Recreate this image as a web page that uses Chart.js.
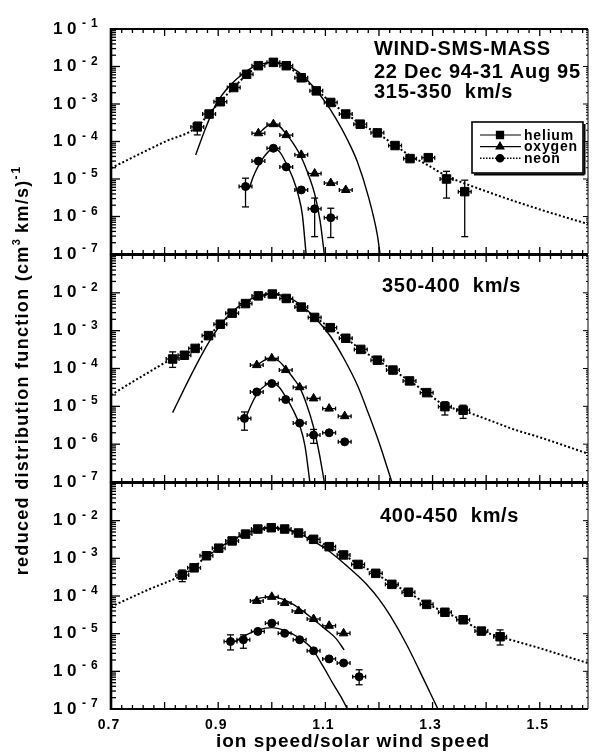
<!DOCTYPE html>
<html>
<head>
<meta charset="utf-8">
<title>WIND-SMS-MASS reduced distribution functions</title>
<script src="https://cdn.jsdelivr.net/npm/chart.js@4.4.1/dist/chart.umd.min.js"></script>
<style>
  body { margin: 0; background: #fff; }
  #page { position: relative; width: 595px; height: 753px; }
  #page canvas { position: absolute; left: 0; top: 0; }
</style>
</head>
<body>
<div id="page">
  <canvas id="panel1" width="595" height="753"></canvas>
  <canvas id="panel2" width="595" height="753"></canvas>
  <canvas id="panel3" width="595" height="753"></canvas>
</div>
<script>
// axis ranges and tick labels
const SPEED_MIN = 0.7;
const SPEED_MAX = 1.59;
const SPEED_ERR = 0.012; // half width of the speed bins (horizontal error bars)
const speedTickValues = [0.7, 0.9, 1.1, 1.3, 1.5];
const speedTickLabels = ['0.7', '0.9', '1.1', '1.3', '1.5'];
const decadeExponents = [-1, -2, -3, -4, -5, -6, -7];
const legendLabels = ['helium', 'oxygen', 'neon'];
const panel1Titles = ['WIND-SMS-MASS', '22 Dec 94-31 Aug 95', '315-350  km/s'];
const panel2Titles = ['350-400  km/s'];
const panel3Titles = ['400-450  km/s'];

// ---- panel 1 : 315-350 km/s ----
const p1HeSpeed = [0.861, 0.883, 0.904, 0.929, 0.953, 0.975, 1.003, 1.027, 1.055, 1.083, 1.110, 1.138, 1.165, 1.197, 1.230, 1.258, 1.292, 1.326, 1.360];
const p1HeValue = [2.45e-4, 5.4e-4, 1.15e-3, 2.75e-3, 6.2e-3, 1.05e-2, 1.29e-2, 1.05e-2, 5.0e-3, 2.24e-3, 1.1e-3, 5.4e-4, 2.9e-4, 1.7e-4, 7.8e-5, 3.5e-5, 3.7e-5, 1.0e-5, 4.6e-6];
const p1HeErrAt = [0, 17, 18];
const p1HeErrLo = [1.5e-4, 3.1e-6, 2.9e-7];
const p1HeErrHi = [3.3e-4, 1.6e-5, 9.3e-6];
const p1OxSpeed = [0.975, 1.003, 1.027, 1.055, 1.080, 1.110, 1.138];
const p1OxValue = [1.66e-4, 2.9e-4, 1.48e-4, 4.4e-5, 1.4e-5, 7.8e-6, 5.1e-6];
const p1NeSpeed = [0.951, 0.975, 1.003, 1.027, 1.055, 1.080, 1.110];
const p1NeValue = [6.3e-6, 3.0e-5, 6.6e-5, 2.1e-5, 5.1e-6, 1.6e-6, 9.3e-7];
const p1NeErrAt = [0, 5, 6];
const p1NeErrLo = [1.8e-6, 2.9e-7, 2.75e-7];
const p1NeErrHi = [1.05e-5, 3.1e-6, 1.66e-6];
const p1KappaSpeed = [0.70, 0.75, 0.80, 0.86, 0.883, 0.904, 0.929, 0.953, 0.975, 1.0, 1.027, 1.055, 1.083, 1.11, 1.138, 1.165, 1.197, 1.23, 1.258, 1.292, 1.326, 1.36, 1.40, 1.455, 1.52, 1.59];
const p1KappaValue = [1.95e-5, 4.4e-5, 9.8e-5, 2.4e-4, 5.6e-4, 1.17e-3, 2.75e-3, 6.0e-3, 1.0e-2, 1.26e-2, 1.05e-2, 5.2e-3, 2.4e-3, 1.12e-3, 5.6e-4, 3.0e-4, 1.66e-4, 7.9e-5, 4.2e-5, 2.3e-5, 1.2e-5, 7.6e-6, 4.7e-6, 2.5e-6, 1.26e-6, 6.3e-7];
const p1HeFitSpeed = [0.858, 0.875, 0.895, 0.915, 0.935, 0.955, 0.975, 1.0, 1.025, 1.05, 1.075, 1.10, 1.12, 1.14, 1.16, 1.18, 1.197, 1.202];
const p1HeFitValue = [4.37e-5, 2.0e-4, 9.3e-4, 2.4e-3, 4.7e-3, 7.9e-3, 1.1e-2, 1.29e-2, 1.12e-2, 7.1e-3, 3.16e-3, 1.12e-3, 4.0e-4, 1.2e-4, 2.8e-5, 3.5e-6, 3.2e-7, 1e-7];
const p1OxFitSpeed = [0.975, 0.99, 1.003, 1.015, 1.027, 1.04, 1.055, 1.07, 1.08, 1.09, 1.098];
const p1OxFitValue = [1.58e-4, 2.5e-4, 2.9e-4, 2.5e-4, 1.58e-4, 8.9e-5, 3.8e-5, 1.12e-5, 4.0e-6, 7.9e-7, 1e-7];
const p1NeFitSpeed = [0.958, 0.965, 0.975, 0.99, 1.003, 1.015, 1.027, 1.04, 1.05, 1.057, 1.064];
const p1NeFitValue = [5.6e-6, 1.12e-5, 2.24e-5, 4.7e-5, 6.6e-5, 5.2e-5, 2.6e-5, 1.0e-5, 3.5e-6, 1.12e-6, 1e-7];

// ---- panel 2 : 350-400 km/s ----
const p2HeSpeed = [0.815, 0.837, 0.857, 0.882, 0.904, 0.926, 0.951, 0.975, 1.001, 1.027, 1.055, 1.080, 1.109, 1.138, 1.166, 1.197, 1.226, 1.257, 1.289, 1.323, 1.357];
const p2HeValue = [1.78e-4, 2.24e-4, 3.4e-4, 7.4e-4, 1.48e-3, 2.9e-3, 5.2e-3, 8.3e-3, 9.3e-3, 7.1e-3, 4.2e-3, 2.24e-3, 1.2e-3, 6.3e-4, 3.2e-4, 1.66e-4, 9.1e-5, 4.7e-5, 2.3e-5, 9.8e-6, 7.9e-6];
const p2HeErrAt = [0, 19, 20];
const p2HeErrLo = [1.07e-4, 5.9e-6, 4.8e-6];
const p2HeErrHi = [2.75e-4, 1.32e-5, 1.07e-5];
const p2OxSpeed = [0.972, 1.000, 1.026, 1.052, 1.078, 1.107, 1.136];
const p2OxValue = [1.23e-4, 1.86e-4, 9.1e-5, 3.2e-5, 1.62e-5, 8.7e-6, 5.5e-6];
const p2NeSpeed = [0.949, 0.972, 1.000, 1.026, 1.052, 1.078, 1.107, 1.136];
const p2NeValue = [4.8e-6, 2.4e-5, 4.0e-5, 1.51e-5, 3.6e-6, 1.74e-6, 2.0e-6, 1.15e-6];
const p2NeErrAt = [0, 5];
const p2NeErrLo = [2.34e-6, 1.05e-6];
const p2NeErrHi = [7.1e-6, 2.45e-6];
const p2KappaSpeed = [0.7, 0.76, 0.815, 0.837, 0.857, 0.882, 0.904, 0.926, 0.951, 0.975, 1.001, 1.027, 1.055, 1.08, 1.109, 1.138, 1.166, 1.197, 1.226, 1.257, 1.289, 1.323, 1.357, 1.406, 1.45, 1.498, 1.545, 1.59];
const p2KappaValue = [2.0e-5, 6.5e-5, 1.78e-4, 2.24e-4, 3.55e-4, 7.4e-4, 1.48e-3, 2.9e-3, 5.2e-3, 8.1e-3, 9.3e-3, 7.2e-3, 4.2e-3, 2.3e-3, 1.2e-3, 6.3e-4, 3.2e-4, 1.66e-4, 9.1e-5, 4.7e-5, 2.3e-5, 1.05e-5, 7.6e-6, 4.3e-6, 2.5e-6, 1.55e-6, 9.3e-7, 5.6e-7];
const p2HeFitSpeed = [0.815, 0.835, 0.852, 0.87, 0.885, 0.904, 0.926, 0.951, 0.975, 1.0, 1.027, 1.055, 1.08, 1.11, 1.135, 1.161, 1.178, 1.20, 1.215, 1.224];
const p2HeFitValue = [6.8e-6, 2.6e-5, 7.9e-5, 2.4e-4, 5.6e-4, 1.41e-3, 3.16e-3, 5.75e-3, 8.3e-3, 9.5e-3, 7.9e-3, 4.7e-3, 2.24e-3, 6.9e-4, 1.78e-4, 3.3e-5, 7.9e-6, 1.12e-6, 2.5e-7, 1e-7];
const p2OxFitSpeed = [0.975, 0.99, 1.0, 1.013, 1.026, 1.04, 1.052, 1.065, 1.077, 1.088, 1.098];
const p2OxFitValue = [1.32e-4, 1.74e-4, 1.86e-4, 1.58e-4, 1.0e-4, 5.6e-5, 3.16e-5, 1.12e-5, 3.16e-6, 6.3e-7, 1e-7];
const p2NeFitSpeed = [0.952, 0.962, 0.975, 0.988, 1.0, 1.013, 1.026, 1.04, 1.052, 1.062, 1.071];
const p2NeFitValue = [5.2e-6, 1.12e-5, 2.4e-5, 3.55e-5, 4.1e-5, 3.3e-5, 1.78e-5, 7.9e-6, 3.16e-6, 8.9e-7, 1e-7];

// ---- panel 3 : 400-450 km/s ----
const p3HeSpeed = [0.833, 0.855, 0.878, 0.901, 0.926, 0.951, 0.974, 0.999, 1.024, 1.050, 1.078, 1.107, 1.134, 1.161, 1.194, 1.224, 1.255, 1.289, 1.323, 1.357, 1.391, 1.426];
const p3HeValue = [3.6e-4, 5.6e-4, 1.17e-3, 1.86e-3, 2.9e-3, 4.4e-3, 6.0e-3, 6.5e-3, 6.0e-3, 4.7e-3, 3.2e-3, 2.04e-3, 1.23e-3, 6.9e-4, 4.0e-4, 2.04e-4, 1.26e-4, 6.0e-5, 3.7e-5, 2.34e-5, 1.17e-5, 8.3e-6];
const p3HeErrAt = [0, 21];
const p3HeErrLo = [2.4e-4, 5.0e-6];
const p3HeErrHi = [4.9e-4, 1.26e-5];
const p3OxSpeed = [0.972, 1.000, 1.024, 1.050, 1.078, 1.107, 1.134];
const p3OxValue = [7.4e-5, 9.5e-5, 6.5e-5, 4.0e-5, 2.45e-5, 1.62e-5, 1.02e-5];
const p3NeSpeed = [0.923, 0.947, 0.974, 1.000, 1.024, 1.052, 1.078, 1.107, 1.134, 1.163];
const p3NeValue = [6.2e-6, 6.9e-6, 1.15e-5, 1.9e-5, 1.02e-5, 6.9e-6, 3.5e-6, 2.14e-6, 1.66e-6, 7.2e-7];
const p3NeErrAt = [0, 1, 9];
const p3NeErrLo = [3.7e-6, 4.1e-6, 4.4e-7];
const p3NeErrHi = [9.3e-6, 9.3e-6, 1.1e-6];
const p3KappaSpeed = [0.7, 0.77, 0.833, 0.855, 0.878, 0.901, 0.926, 0.951, 0.974, 0.999, 1.024, 1.05, 1.078, 1.107, 1.134, 1.161, 1.194, 1.224, 1.255, 1.289, 1.323, 1.357, 1.391, 1.426, 1.46, 1.498, 1.545, 1.59];
const p3KappaValue = [5.2e-5, 1.48e-4, 3.6e-4, 5.75e-4, 1.15e-3, 1.86e-3, 2.9e-3, 4.4e-3, 5.9e-3, 6.5e-3, 6.0e-3, 4.7e-3, 3.2e-3, 2.04e-3, 1.23e-3, 7.1e-4, 3.9e-4, 2.14e-4, 1.23e-4, 6.3e-5, 3.7e-5, 2.24e-5, 1.2e-5, 8.3e-6, 6.0e-6, 4.2e-6, 2.6e-6, 1.66e-6];
const p3HeFitSpeed = [0.88, 0.90, 0.925, 0.95, 0.975, 1.0, 1.025, 1.05, 1.075, 1.10, 1.12, 1.14, 1.16, 1.178, 1.20, 1.221, 1.252, 1.283, 1.31];
const p3HeFitValue = [1.12e-3, 1.82e-3, 3.0e-3, 4.5e-3, 5.75e-3, 6.5e-3, 5.9e-3, 4.6e-3, 3.0e-3, 1.82e-3, 1.1e-3, 6.3e-4, 3.5e-4, 1.95e-4, 8.3e-5, 3.0e-5, 5.0e-6, 6.3e-7, 1e-7];
const p3OxFitSpeed = [0.963, 0.98, 1.0, 1.02, 1.04, 1.06, 1.08, 1.10, 1.12, 1.135];
const p3OxFitValue = [7.6e-5, 8.9e-5, 9.5e-5, 8.3e-5, 6.0e-5, 3.8e-5, 2.24e-5, 1.32e-5, 7.4e-6, 3.7e-6];
const p3NeFitSpeed = [0.932, 0.95, 0.975, 1.0, 1.025, 1.05, 1.075, 1.095, 1.115, 1.13, 1.141];
const p3NeFitValue = [6.3e-6, 8.9e-6, 1.26e-5, 1.45e-5, 1.2e-5, 7.9e-6, 4.0e-6, 1.41e-6, 4.5e-7, 2.0e-7, 1e-7];

const FONT = '"Liberation Sans", Arial, Helvetica, sans-serif';

function pairs(xs, ys) {
    return xs.map((x, i) => ({ x: x, y: ys[i] }));
}

function markerSet(label, style, radius, xs, ys, errAt, errLo, errHi) {
    return {
        label: label,
        data: pairs(xs, ys),
        showLine: false,
        pointStyle: style,
        pointRadius: radius,
        backgroundColor: '#000',
        borderColor: '#000',
        borderWidth: 1,
        errAt: errAt || [],
        errLo: errLo || [],
        errHi: errHi || [],
        order: 0
    };
}

function curveSet(xs, ys, dotted) {
    return {
        data: pairs(xs, ys),
        showLine: true,
        pointRadius: 0,
        borderColor: '#000',
        borderWidth: dotted ? 2 : 1.4,
        borderDash: dotted ? [2, 2.2] : [],
        cubicInterpolationMode: 'monotone',
        fill: false,
        order: 1
    };
}

function drawLine(ctx, x1, y1, x2, y2) {
    ctx.beginPath();
    ctx.moveTo(x1, y1);
    ctx.lineTo(x2, y2);
    ctx.stroke();
}

// draws a row of text runs (normal and raised) from x along one baseline
function drawRuns(ctx, runs, x, y) {
    runs.forEach(run => {
        ctx.font = run.font;
        ctx.letterSpacing = (run.spacing || 0) + 'px';
        ctx.fillText(run.text, x, y + (run.rise || 0));
        x += ctx.measureText(run.text).width;
    });
    return x;
}

function runsWidth(ctx, runs) {
    let w = 0;
    runs.forEach(run => {
        ctx.font = run.font;
        ctx.letterSpacing = (run.spacing || 0) + 'px';
        w += ctx.measureText(run.text).width;
    });
    return w;
}

const errorBars = {
    id: 'errorBars',
    afterDatasetsDraw(chart) {
        const { ctx } = chart;
        const x = chart.scales.x, y = chart.scales.y;
        ctx.save();
        ctx.strokeStyle = '#000';
        ctx.lineWidth = 1.3;
        chart.data.datasets.forEach(ds => {
            if (!ds.errAt) return;
            ds.data.forEach(p => {
                const py = y.getPixelForValue(p.y);
                const l = x.getPixelForValue(p.x - SPEED_ERR);
                const r = x.getPixelForValue(p.x + SPEED_ERR);
                drawLine(ctx, l, py, r, py);
                drawLine(ctx, l, py - 2, l, py + 2);
                drawLine(ctx, r, py - 2, r, py + 2);
            });
            ds.errAt.forEach((idx, k) => {
                const px = x.getPixelForValue(ds.data[idx].x);
                const top = y.getPixelForValue(ds.errHi[k]);
                const bot = y.getPixelForValue(ds.errLo[k]);
                drawLine(ctx, px, top, px, bot);
                drawLine(ctx, px - 3.5, top, px + 3.5, top);
                drawLine(ctx, px - 3.5, bot, px + 3.5, bot);
            });
        });
        ctx.restore();
    }
};

const panelDecor = {
    id: 'panelDecor',
    afterDraw(chart, args, opts) {
        const { ctx, chartArea: a } = chart;
        const x = chart.scales.x, y = chart.scales.y;
        ctx.save();
        ctx.strokeStyle = '#000';
        ctx.fillStyle = '#000';

        // speed ticks every 0.02, longer every 0.1, pointing inward at top and bottom
        ctx.lineWidth = 1.3;
        for (let i = 35; i <= 79; i++) {
            const px = x.getPixelForValue(i / 50);
            const len = i % 5 === 0 ? 7 : 4;
            drawLine(ctx, px, a.top, px, a.top + len);
            drawLine(ctx, px, a.bottom, px, a.bottom - len);
        }

        // log ticks on left (strong) and right (light)
        decadeExponents.forEach(e => {
            for (let m = 1; m <= 9; m++) {
                if (e === -1 && m > 1) break;
                const py = y.getPixelForValue(m * Math.pow(10, e));
                ctx.lineWidth = 1.3;
                drawLine(ctx, a.left, py, a.left + (m === 1 ? 9 : 5), py);
                ctx.lineWidth = 1;
                drawLine(ctx, a.right, py, a.right - (m === 1 ? 5 : 2), py);
            }
        });

        // frame
        ctx.lineWidth = 2.6;
        drawLine(ctx, a.left, a.top - 1, a.left, a.bottom + 1);
        ctx.lineWidth = 2;
        drawLine(ctx, a.left, a.top, a.right, a.top);
        drawLine(ctx, a.left, a.bottom, a.right, a.bottom);
        ctx.lineWidth = 1;
        drawLine(ctx, a.right, a.top, a.right, a.bottom);

        // decade labels 10^-n
        ctx.textAlign = 'left';
        opts.labelled.forEach(e => {
            const py = y.getPixelForValue(Math.pow(10, e));
            drawRuns(ctx, [{ text: '1', font: 'bold 17px ' + FONT }], 53, py + 4.5);
            drawRuns(ctx, [{ text: '0', font: 'bold 17px ' + FONT }], 67, py + 4.5);
            drawRuns(ctx, [{ text: '-', font: 'bold 12px ' + FONT }], 82, py - 2);
            drawRuns(ctx, [{ text: String(-e), font: 'bold 12px ' + FONT }], 91, py - 2);
        });

        // panel titles
        opts.titles.forEach((t, i) => {
            drawRuns(ctx, [{ text: t, font: 'bold 20px ' + FONT, spacing: 0.7 }], opts.titleX, opts.titleY[i]);
        });

        if (opts.legend) {
            const bx = 472, by = 122, bw = 111, bh = 51;
            ctx.lineWidth = 1.6;
            ctx.strokeRect(bx, by, bw, bh);
            ctx.lineWidth = 2;
            drawLine(ctx, bx + 2, by + bh + 1.5, bx + bw + 1.5, by + bh + 1.5);
            drawLine(ctx, bx + bw + 1.5, by + 2, bx + bw + 1.5, by + bh + 1.5);
            const styles = ['rect', 'triangle', 'circle'];
            const radii = [5, 4.5, 3.5];
            const rows = [135, 146.7, 158.3];
            legendLabels.forEach((name, i) => {
                ctx.lineWidth = i === 2 ? 1.6 : 1.2;
                ctx.setLineDash(i === 2 ? [1.5, 1.5] : []);
                drawLine(ctx, 480, rows[i], 521, rows[i]);
                ctx.setLineDash([]);
                Chart.helpers.drawPoint(ctx, { pointStyle: styles[i], radius: radii[i], rotation: 0, borderWidth: 1 }, 500, rows[i]);
                ctx.fill();
                drawRuns(ctx, [{ text: name, font: 'bold 14px ' + FONT, spacing: 0.8 }], 524, rows[i] + 4.5);
            });
        }

        if (opts.xAxis) {
            ctx.textAlign = 'center';
            speedTickValues.forEach((v, i) => {
                const px = x.getPixelForValue(v);
                ctx.font = 'bold 14px ' + FONT;
                ctx.letterSpacing = '1px';
                ctx.fillText(speedTickLabels[i], px - 2, 728.5);
            });
            ctx.font = 'bold 19px ' + FONT;
            ctx.letterSpacing = '1px';
            ctx.fillText('ion speed/solar wind speed', 353, 747);

            // vertical title across all three panels
            const runs = [
                { text: 'reduced distribution function (cm', font: 'bold 18px ' + FONT, spacing: 1.3 },
                { text: '3', font: 'bold 11px ' + FONT, rise: -8 },
                { text: ' km/s)', font: 'bold 18px ' + FONT, spacing: 1.3 },
                { text: '-', font: 'bold 12px ' + FONT, rise: -8, spacing: 2 },
                { text: '1', font: 'bold 12px ' + FONT, rise: -8 }
            ];
            ctx.textAlign = 'left';
            ctx.translate(28, 371);
            ctx.rotate(-Math.PI / 2);
            drawRuns(ctx, runs, -runsWidth(ctx, runs) / 2, 0);
        }
        ctx.restore();
    }
};

function makePanel(canvasId, top, bottom, datasets, decor) {
    return new Chart(document.getElementById(canvasId), {
        type: 'line',
        data: { datasets: datasets },
        options: {
            responsive: false,
            animation: false,
            layout: { padding: { left: 111, right: 595 - 593, top: top, bottom: 753 - bottom } },
            scales: {
                x: { type: 'linear', min: SPEED_MIN, max: SPEED_MAX, display: false },
                y: { type: 'logarithmic', min: 1e-7, max: 1e-1, display: false }
            },
            plugins: {
                legend: { display: false },
                tooltip: { enabled: false },
                panelDecor: decor
            }
        },
        plugins: [errorBars, panelDecor]
    });
}

makePanel('panel1', 29, 254, [
    curveSet(p1KappaSpeed, p1KappaValue, true),
    curveSet(p1HeFitSpeed, p1HeFitValue, false),
    curveSet(p1OxFitSpeed, p1OxFitValue, false),
    curveSet(p1NeFitSpeed, p1NeFitValue, false),
    markerSet('helium', 'rect', 6, p1HeSpeed, p1HeValue, p1HeErrAt, p1HeErrLo, p1HeErrHi),
    markerSet('oxygen', 'triangle', 5, p1OxSpeed, p1OxValue),
    markerSet('neon', 'circle', 4, p1NeSpeed, p1NeValue, p1NeErrAt, p1NeErrLo, p1NeErrHi)
], { labelled: [-1, -2, -3, -4, -5, -6, -7], titles: panel1Titles, titleX: 374, titleY: [55, 78, 98], legend: true, xAxis: false });

makePanel('panel2', 255, 482, [
    curveSet(p2KappaSpeed, p2KappaValue, true),
    curveSet(p2HeFitSpeed, p2HeFitValue, false),
    curveSet(p2OxFitSpeed, p2OxFitValue, false),
    curveSet(p2NeFitSpeed, p2NeFitValue, false),
    markerSet('helium', 'rect', 6, p2HeSpeed, p2HeValue, p2HeErrAt, p2HeErrLo, p2HeErrHi),
    markerSet('oxygen', 'triangle', 5, p2OxSpeed, p2OxValue),
    markerSet('neon', 'circle', 4, p2NeSpeed, p2NeValue, p2NeErrAt, p2NeErrLo, p2NeErrHi)
], { labelled: [-2, -3, -4, -5, -6, -7], titles: panel2Titles, titleX: 382, titleY: [292], legend: false, xAxis: false });

makePanel('panel3', 483, 709, [
    curveSet(p3KappaSpeed, p3KappaValue, true),
    curveSet(p3HeFitSpeed, p3HeFitValue, false),
    curveSet(p3OxFitSpeed, p3OxFitValue, false),
    curveSet(p3NeFitSpeed, p3NeFitValue, false),
    markerSet('helium', 'rect', 6, p3HeSpeed, p3HeValue, p3HeErrAt, p3HeErrLo, p3HeErrHi),
    markerSet('oxygen', 'triangle', 5, p3OxSpeed, p3OxValue),
    markerSet('neon', 'circle', 4, p3NeSpeed, p3NeValue, p3NeErrAt, p3NeErrLo, p3NeErrHi)
], { labelled: [-2, -3, -4, -5, -6, -7], titles: panel3Titles, titleX: 380, titleY: [522], legend: false, xAxis: true });
</script>
</body>
</html>
